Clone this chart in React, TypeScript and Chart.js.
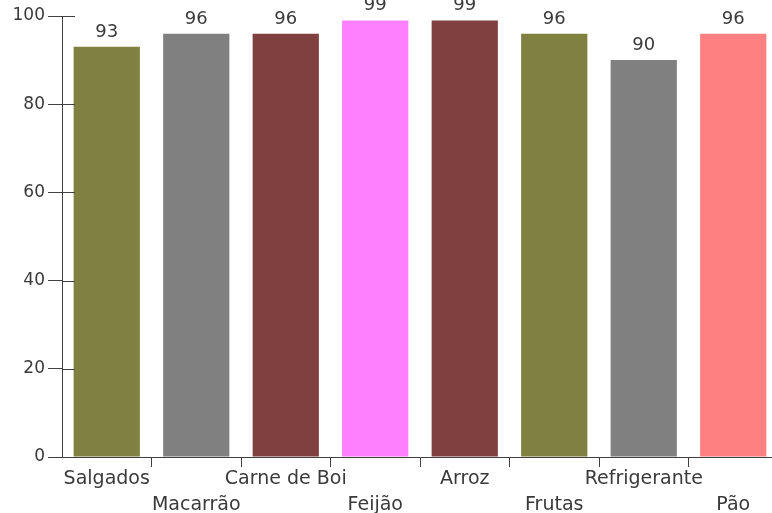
import { useEffect, useRef } from "react";
import { Chart, registerables } from "chart.js";

Chart.register(...registerables);

// Food items and their scores
const categories = [
  "Salgados",
  "Macarrão",
  "Carne de Boi",
  "Feijão",
  "Arroz",
  "Frutas",
  "Refrigerante",
  "Pão",
];
const values = [93, 96, 96, 99, 99, 96, 90, 96];
const barColors = [
  "#808040",
  "#808080",
  "#804040",
  "#ff80ff",
  "#804040",
  "#808040",
  "#808080",
  "#ff8080",
];
const yTickValues = [0, 20, 40, 60, 80, 100];

const FONT = "'DejaVu Sans', Verdana, sans-serif";
const TEXT = "#3a3a3a";
const AXIS = "#404040";

// Short tick stubs on the inner side of the y axis
const innerTicks = {
  id: "innerTicks",
  afterDraw(chart: any) {
    const y = chart.scales.y;
    const ctx = chart.ctx;
    ctx.save();
    ctx.strokeStyle = AXIS;
    ctx.lineWidth = 1;
    for (const t of y.ticks) {
      const py = Math.round(y.getPixelForValue(t.value)) + 0.5;
      ctx.beginPath();
      ctx.moveTo(y.right, py);
      ctx.lineTo(y.right + 13, py);
      ctx.stroke();
    }
    ctx.restore();
  },
};

// Value printed above each bar
const valueLabels = {
  id: "valueLabels",
  afterDatasetsDraw(chart: any) {
    const ctx = chart.ctx;
    const meta = chart.getDatasetMeta(0);
    ctx.save();
    ctx.font = `18px ${FONT}`;
    ctx.fillStyle = TEXT;
    ctx.textAlign = "center";
    ctx.textBaseline = "alphabetic";
    meta.data.forEach((bar: any, i: number) => {
      ctx.fillText(String(values[i]), bar.x, bar.y - 10);
    });
    ctx.restore();
  },
};

export default function App() {
  const canvasRef = useRef<HTMLCanvasElement | null>(null);

  useEffect(() => {
    if (!canvasRef.current) return;
    const chart = new Chart(canvasRef.current, {
      type: "bar",
      data: {
        labels: categories.map((c, i) => (i % 2 === 1 ? ["", c] : [c])),
        datasets: [
          {
            data: values,
            backgroundColor: barColors,
            borderWidth: 0,
            categoryPercentage: 1,
            barPercentage: 0.74,
          },
        ],
      },
      options: {
        responsive: false,
        animation: false,
        devicePixelRatio: 1,
        layout: { padding: { top: 16, left: 0, right: 0, bottom: 0 } },
        plugins: {
          legend: { display: false },
          tooltip: { enabled: false },
        },
        scales: {
          x: {
            offset: true,
            border: { display: true, color: AXIS, width: 1 },
            grid: {
              offset: true,
              drawOnChartArea: false,
              tickLength: 10,
              tickColor: (c: any) => (c.index === 0 ? "rgba(0,0,0,0)" : AXIS),
            },
            ticks: {
              color: TEXT,
              font: { family: FONT, size: 19, lineHeight: 1.32 },
              padding: 0,
              maxRotation: 0,
              autoSkip: false,
            },
            afterFit(scale: any) {
              scale.height = 56;
              scale.paddingLeft = 0;
              scale.paddingRight = 0;
            },
          },
          y: {
            min: 0,
            max: 100,
            border: { display: true, color: AXIS, width: 1 },
            grid: {
              drawOnChartArea: false,
              tickLength: 14,
              color: AXIS,
            },
            ticks: {
              color: TEXT,
              font: { family: FONT, size: 17 },
              padding: 3,
            },
            afterBuildTicks(scale: any) {
              scale.ticks = yTickValues.map((v) => ({ value: v }));
            },
            afterFit(scale: any) {
              scale.width = 62;
              scale.paddingTop = 0;
              scale.paddingBottom = 0;
            },
          },
        },
      },
      plugins: [innerTicks, valueLabels],
    });
    return () => chart.destroy();
  }, []);

  return (
    <div
      style={{
        position: "fixed",
        left: 0,
        top: 0,
        width: 772,
        height: 513,
        overflow: "hidden",
        background: "#ffffff",
      }}
    >
      <canvas
        ref={canvasRef}
        width={778}
        height={513}
        style={{ display: "block" }}
      />
    </div>
  );
}
